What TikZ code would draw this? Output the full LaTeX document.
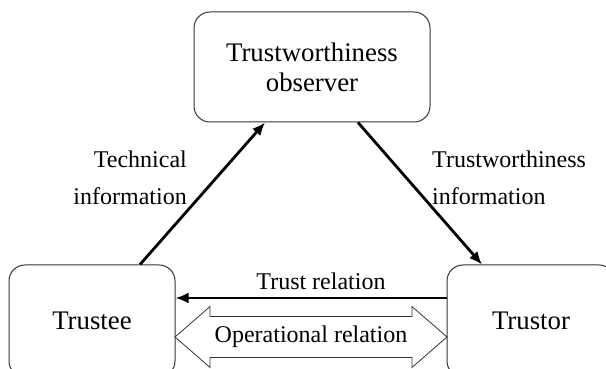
\documentclass[tikz,border=0pt]{standalone}
\usepackage{fontspec}
\setmainfont{Liberation Serif}
\usetikzlibrary{shapes.arrows,arrows.meta}

\begin{document}
\begin{tikzpicture}[x=1pt,y=1pt,
    entity/.style={draw=black!80,line width=1pt,rounded corners=16pt,align=center,
      font=\fontsize{26.8}{30}\selectfont},
    note/.style={inner sep=0pt,font=\fontsize{24}{37}\selectfont},
    link/.style={line width=2.8pt,-{Latex[length=13pt,width=11pt]}}]
  \useasboundingbox (0,0) rectangle (606,369);

  % Entities
  \node[entity,minimum width=236pt,minimum height=110pt] (observer) at (312,302) {Trustworthiness\\observer};
  \node[entity,minimum width=166pt,minimum height=112pt] (trustee) at (92,48) {Trustee};
  \node[entity,minimum width=168pt,minimum height=112pt] (trustor) at (531,48) {Trustor};

  % Information flows
  \draw[link] ([xshift=48pt]trustee.north) -- ([xshift=-47pt]observer.south);
  \draw[link] ([xshift=46pt]observer.south) -- ([xshift=-49pt]trustor.north);
  \draw[link] ([yshift=23pt]trustor.west) -- ([yshift=23pt]trustee.east);

  % Labels
  \node[note,align=right,anchor=east] (tech) at (187,191) {Technical\\information};
  \node[note,align=left,anchor=west] (twinfo) at (432,191) {Trustworthiness\\information};
  \node[note,anchor=base] (trust) at (321,79) {Trust relation};

  % Operational relation
  \node[double arrow,draw=black!80,line width=0.8pt,font=\fontsize{24}{28}\selectfont,
    minimum height=272pt,minimum width=60pt,inner xsep=1pt,inner ysep=9.2pt,
    double arrow head extend=10pt,double arrow tip angle=82] (oprel) at (311,32) {Operational relation};
\end{tikzpicture}
\end{document}
